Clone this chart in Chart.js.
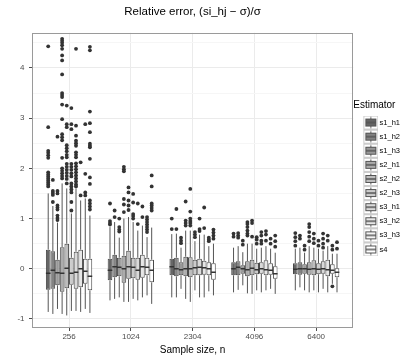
<!DOCTYPE html>
<html>
<head>
<meta charset="utf-8">
<script src="https://cdn.jsdelivr.net/npm/chart.js@4.4.1/dist/chart.umd.min.js"></script>
<style>
  html, body { margin: 0; padding: 0; background: #fff; }
</style>
</head>
<body>
<canvas id="chart" width="420" height="360"></canvas>
<script>
// categories and series
const sampleSizes = ['256', '1024', '2304', '4096', '6400'];
const estimators = ['s1_h1', 's1_h2', 's1_h3', 's2_h1', 's2_h2', 's2_h3', 's3_h1', 's3_h2', 's3_h3', 's4'];
const fills = ['#666666', '#838383', '#999999', '#acacac', '#bdbdbd', '#cccccc', '#dadada', '#e7e7e7', '#f4f4f4', '#ffffff'];

// box stats, one row per estimator, one column per sample size
const lowerWhisker = [
  [-0.86, -0.63, -0.57, -0.47, -0.43],
  [-0.90, -0.60, -0.57, -0.42, -0.37],
  [-0.80, -0.57, -0.40, -0.33, -0.43],
  [-0.90, -0.66, -0.60, -0.49, -0.47],
  [-0.93, -0.66, -0.66, -0.50, -0.43],
  [-0.84, -0.60, -0.43, -0.43, -0.47],
  [-0.84, -0.63, -0.57, -0.47, -0.40],
  [-0.86, -0.57, -0.57, -0.43, -0.47],
  [-0.80, -0.53, -0.45, -0.40, -0.30],
  [-0.88, -0.70, -0.53, -0.50, -0.47]
];
const q1 = [
  [-0.42, -0.23, -0.13, -0.13, -0.11],
  [-0.40, -0.17, -0.15, -0.13, -0.12],
  [-0.33, -0.15, -0.13, -0.10, -0.10],
  [-0.46, -0.28, -0.15, -0.15, -0.12],
  [-0.39, -0.20, -0.17, -0.13, -0.13],
  [-0.32, -0.19, -0.13, -0.11, -0.11],
  [-0.40, -0.22, -0.13, -0.10, -0.10],
  [-0.37, -0.18, -0.12, -0.13, -0.15],
  [-0.30, -0.13, -0.13, -0.12, -0.10],
  [-0.43, -0.27, -0.22, -0.20, -0.17]
];
const median = [
  [-0.09, -0.03, 0.04, 0.00, -0.01],
  [-0.03, 0.04, 0.00, 0.03, 0.00],
  [-0.08, 0.03, -0.02, 0.00, 0.00],
  [-0.09, 0.00, 0.00, -0.02, -0.01],
  [0.01, 0.04, 0.00, 0.01, 0.00],
  [-0.09, 0.03, 0.02, -0.02, -0.01],
  [-0.07, -0.03, 0.03, 0.00, 0.00],
  [0.00, 0.04, 0.02, -0.02, -0.02],
  [-0.05, 0.03, 0.00, -0.03, -0.03],
  [-0.15, -0.03, -0.07, -0.10, -0.07]
];
const q3 = [
  [0.38, 0.20, 0.20, 0.13, 0.11],
  [0.35, 0.28, 0.22, 0.15, 0.13],
  [0.18, 0.22, 0.13, 0.07, 0.09],
  [0.43, 0.26, 0.24, 0.15, 0.13],
  [0.50, 0.36, 0.23, 0.18, 0.17],
  [0.22, 0.22, 0.18, 0.12, 0.11],
  [0.34, 0.22, 0.20, 0.13, 0.15],
  [0.38, 0.28, 0.16, 0.17, 0.18],
  [0.20, 0.22, 0.13, 0.11, 0.09],
  [0.20, 0.18, 0.11, 0.05, 0.01]
];
const upperWhisker = [
  [1.50, 0.83, 0.69, 0.42, 0.40],
  [1.25, 0.93, 0.70, 0.45, 0.42],
  [0.92, 0.62, 0.42, 0.33, 0.32],
  [1.70, 1.00, 0.76, 0.50, 0.45],
  [1.60, 1.03, 0.76, 0.50, 0.42],
  [1.10, 0.93, 0.55, 0.40, 0.40],
  [1.60, 0.76, 0.68, 0.42, 0.36],
  [1.36, 0.86, 0.68, 0.45, 0.45],
  [1.40, 0.63, 0.45, 0.40, 0.30],
  [1.06, 0.82, 0.50, 0.32, 0.30]
];
const outliers = [
  [[4.43, 2.82, 2.35, 2.31, 2.26, 2.21, 1.92, 1.88, 1.84, 1.80, 1.76, 1.72, 1.68, 1.64], [1.30, 0.95, 0.91, 0.88], [1.00, 0.79], [0.70, 0.64], [0.71, 0.63, 0.55, 0.46]],
  [[1.77, 1.55, 1.51, 1.47, 1.33], [1.16, 1.03], [1.19, 0.79], [0.71, 0.66, 0.62], [0.66, 0.60]],
  [[2.63, 1.55, 1.50, 1.26, 1.22, 1.18, 1.06, 1.01, 0.97], [1.00, 0.83, 0.78, 0.74], [0.62, 0.56, 0.51], [0.56, 0.48], [0.46, 0.38]],
  [[4.58, 4.54, 4.50, 4.45, 4.38, 4.25, 4.15, 3.87, 3.50, 3.46, 3.42, 3.27, 2.98, 2.68, 2.62, 2.56, 2.21, 2.00, 1.95, 1.90, 1.85, 1.80], [2.03, 1.98, 1.94, 1.39, 1.28, 1.13], [1.34, 0.96, 0.91, 0.86], [0.93, 0.89, 0.83, 0.76, 0.70, 0.66], [0.89, 0.83, 0.73, 0.64, 0.55]],
  [[3.25, 2.88, 2.82, 2.46, 2.40, 2.34, 2.27, 2.22, 2.09, 2.03, 1.97, 1.91, 1.85, 1.79, 1.70], [1.62, 1.52, 1.36, 1.26, 1.17], [1.59, 1.14, 1.00, 0.95, 0.91, 0.86], [0.96, 0.91, 0.64], [0.70, 0.60, 0.51]],
  [[3.20, 2.88, 2.78, 2.09, 2.03, 1.97, 1.90, 1.84, 1.70, 1.64, 1.58, 1.52, 1.33, 1.16], [1.49, 1.32, 1.09, 1.05, 1.00], [0.73, 0.68, 0.63], [0.63, 0.58, 0.50], [0.56, 0.46]],
  [[4.38, 2.85, 2.65, 2.55, 2.50, 2.45, 2.32, 2.27, 2.22, 2.10, 2.04, 1.98, 1.92, 1.86, 1.80, 1.74, 1.68, 1.64], [1.30, 0.89], [1.00, 0.79, 0.75], [0.73, 0.66, 0.56, 0.50], [0.70, 0.60, 0.50, 0.42]],
  [[2.12, 1.46], [1.24, 1.03], [1.22, 0.81], [0.75, 0.68, 0.56], [0.66, 0.56]],
  [[2.88, 1.89, 1.52, 1.46], [1.03, 0.98, 0.93, 0.88, 0.83, 0.78, 0.73], [0.62, 0.58, 0.55], [0.60, 0.50], [0.46, 0.38, -0.35]],
  [[4.42, 4.35, 3.13, 2.90, 2.72, 2.49, 2.45, 2.42, 2.19, 1.82, 1.69, 1.36, 1.30, 1.24, 1.18], [1.86, 1.64, 1.30, 1.26, 1.21, 1.16], [0.78, 0.72, 0.66, 0.60], [0.66, 0.55, 0.44], [0.53, 0.40]]
];

// axis ticks: labelled majors and unlabelled minor grid lines
const yMajor = [-1, 0, 1, 2, 3, 4];
const yGrid = [-1, -0.5, 0, 0.5, 1, 1.5, 2, 2.5, 3, 3.5, 4, 4.5];

Chart.defaults.font.family = '"Liberation Sans", Arial, sans-serif';

// little boxplot glyph for each legend key
function makeKey(fill) {
  const c = document.createElement('canvas');
  c.width = 21; c.height = 14;
  const g = c.getContext('2d');
  g.fillStyle = '#ffffff';
  g.fillRect(6, 0, 15, 14);
  g.strokeStyle = '#cccccc';
  g.lineWidth = 1;
  g.strokeRect(6.5, 0.5, 14, 13);
  g.strokeStyle = '#555555';
  g.beginPath();
  g.moveTo(13.5, 1.5); g.lineTo(13.5, 12.5);
  g.stroke();
  g.fillStyle = fill;
  g.fillRect(8.5, 3.5, 10, 7);
  g.strokeRect(8.5, 3.5, 10, 7);
  g.beginPath();
  g.moveTo(8.5, 7); g.lineTo(18.5, 7);
  g.lineWidth = 1.5;
  g.stroke();
  return c;
}
const keyGlyphs = fills.map(makeKey);

const boxExtras = {
  id: 'boxExtras',
  afterDatasetsDraw(chart) {
    const { ctx, chartArea: a, scales: { y } } = chart;
    ctx.save();
    ctx.beginPath();
    ctx.rect(a.left, a.top, a.right - a.left, a.bottom - a.top);
    ctx.clip();
    estimators.forEach((name, i) => {
      chart.getDatasetMeta(i).data.forEach((bar, j) => {
        const x = bar.x;
        const half = bar.width / 2;
        ctx.strokeStyle = '#555555';
        ctx.lineWidth = 1;
        ctx.beginPath();
        ctx.moveTo(x, y.getPixelForValue(upperWhisker[i][j]));
        ctx.lineTo(x, y.getPixelForValue(q3[i][j]));
        ctx.moveTo(x, y.getPixelForValue(q1[i][j]));
        ctx.lineTo(x, y.getPixelForValue(lowerWhisker[i][j]));
        ctx.stroke();
        ctx.strokeStyle = '#333333';
        ctx.lineWidth = 1.6;
        const ym = y.getPixelForValue(median[i][j]);
        ctx.beginPath();
        ctx.moveTo(x - half, ym);
        ctx.lineTo(x + half, ym);
        ctx.stroke();
        ctx.fillStyle = '#333333';
        outliers[i][j].forEach(v => {
          ctx.beginPath();
          ctx.arc(x, y.getPixelForValue(v), 1.9, 0, Math.PI * 2);
          ctx.fill();
        });
      });
    });
    ctx.restore();
  },
  afterDraw(chart) {
    const { ctx, chartArea: a } = chart;
    ctx.save();
    ctx.strokeStyle = '#9a9a9a';
    ctx.lineWidth = 1;
    ctx.strokeRect(Math.round(a.left) + 0.5, Math.round(a.top) + 0.5,
      Math.round(a.right - a.left) - 1, Math.round(a.bottom - a.top) - 1);
    ctx.restore();
  }
};

const datasets = estimators.map((name, i) => ({
  label: name,
  data: sampleSizes.map((s, j) => ({ x: j + 1, y: [q1[i][j], q3[i][j]] })),
  backgroundColor: fills[i],
  borderColor: '#4a4a4a',
  borderWidth: 1,
  borderSkipped: false,
  categoryPercentage: 0.75,
  barPercentage: 1
}));

new Chart(document.getElementById('chart'), {
  type: 'bar',
  data: { datasets },
  plugins: [boxExtras],
  options: {
    responsive: false,
    animation: false,
    layout: { padding: { right: 10 } },
    scales: {
      x: {
        type: 'linear',
        min: 0.4,
        max: 5.6,
        offset: false,
        afterBuildTicks: s => { s.ticks = sampleSizes.map((v, j) => ({ value: j + 1 })); },
        afterFit: s => { s.height = 32; },
        ticks: {
          callback: v => sampleSizes[Math.round(v) - 1],
          autoSkip: false,
          maxRotation: 0,
          font: { size: 8 },
          color: '#4d4d4d',
          padding: 1
        },
        grid: { offset: false, color: '#ebebeb', tickColor: '#4d4d4d', tickLength: 3 },
        border: { display: false },
        title: { display: true, text: 'Sample size, n', font: { size: 10 }, color: '#000', padding: { top: 0, bottom: 4 } }
      },
      y: {
        min: -1.18,
        max: 4.70,
        afterBuildTicks: s => { s.ticks = yGrid.map(v => ({ value: v })); },
        afterFit: s => { s.width = 32; },
        ticks: {
          callback: v => yMajor.includes(v) ? String(v) : '',
          autoSkip: false,
          font: { size: 8 },
          color: '#4d4d4d',
          padding: 4.5
        },
        grid: {
          color: c => yMajor.includes(c.tick.value) ? '#ebebeb' : '#f6f6f6',
          tickColor: c => yMajor.includes(c.tick.value) ? '#4d4d4d' : 'rgba(0,0,0,0)',
          tickLength: 3
        },
        border: { display: false }
      }
    },
    plugins: {
      title: {
        display: true,
        fullSize: false,
        text: 'Relative error, (si_hj \u2212 \u03c3)/\u03c3',
        font: { size: 11.5, weight: 'normal' },
        color: '#000',
        padding: { top: 5, bottom: 14 }
      },
      legend: {
        position: 'right',
        align: 'center',
        title: {
          display: true,
          text: 'Estimator',
          position: 'start',
          font: { size: 10 },
          color: '#000',
          padding: { top: 0, bottom: 0 }
        },
        labels: {
          usePointStyle: true,
          pointStyleWidth: 16,
          font: { size: 7.5 },
          color: '#000',
          padding: 6.6,
          generateLabels: () => estimators.map((name, i) => ({
            text: name,
            pointStyle: keyGlyphs[i],
            fillStyle: fills[i],
            strokeStyle: '#333',
            lineWidth: 0,
            hidden: false,
            datasetIndex: i
          }))
        }
      },
      tooltip: { enabled: false }
    }
  }
});
</script>
</body>
</html>
